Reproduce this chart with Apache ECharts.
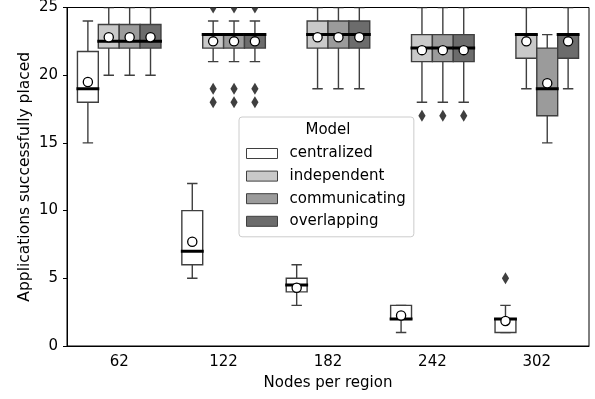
<!DOCTYPE html>
<html><head><meta charset="utf-8">
<script src="https://cdn.jsdelivr.net/npm/echarts@6/dist/echarts.min.js"></script>
<style>html,body{margin:0;padding:0;background:#fff}#c{width:595px;height:399px}</style>
</head><body><div id="c"></div>
<script>
const categories = ['62', '122', '182', '242', '302'];
const models = ['centralized', 'independent', 'communicating', 'overlapping'];
// [lower whisker, Q1, median, Q3, upper whisker] per category
const centralizedStats   = [[15, 18, 19, 21.75, 24], [5, 6, 7, 10, 12], [3, 4, 4.5, 5, 6], [1, 2, 2, 3, 3], [1, 1, 2, 2, 3]];
const independentStats   = [[20, 22, 22.5, 23.75, 25], [21, 22, 23, 23, 24], [19, 22, 23, 24, 25], [18, 21, 22, 23, 25], [19, 21.25, 23, 23, 25]];
const communicatingStats = [[20, 22, 22.5, 23.75, 25], [21, 22, 23, 23, 24], [19, 22, 23, 24, 25], [18, 21, 22, 23, 25], [15, 17, 19, 22, 23]];
const overlappingStats   = [[20, 22, 22.5, 23.75, 25], [21, 22, 23, 23, 24], [19, 22, 23, 24, 25], [18, 21, 22, 23, 25], [19, 21.25, 23, 23, 25]];
const centralizedMeans   = [19.5, 7.7, 4.3, 2.25, 1.85];
const independentMeans   = [22.8, 22.5, 22.8, 21.85, 22.5];
const communicatingMeans = [22.8, 22.5, 22.8, 21.85, 19.4];
const overlappingMeans   = [22.8, 22.5, 22.8, 21.85, 22.5];
const centralizedOutliers   = [[], [], [], [], [5]];
const independentOutliers   = [[], [18, 19, 25], [], [17], []];
const communicatingOutliers = [[], [18, 19, 25], [], [17], []];
const overlappingOutliers   = [[], [18, 19, 25], [], [17], []];
const yTicks = [0, 5, 10, 15, 20, 25];

const allStats = [centralizedStats, independentStats, communicatingStats, overlappingStats];
const allMeans = [centralizedMeans, independentMeans, communicatingMeans, overlappingMeans];
const allOutliers = [centralizedOutliers, independentOutliers, communicatingOutliers, overlappingOutliers];
const fills = ['#ffffff', '#c9c9c9', '#9b9b9b', '#6c6c6c'];
const edge = '#3f3f3f';
const FONT = 'DejaVu Sans';

function makeRender(m) {
  return function (params, api) {
    const ci = api.value(0);
    const lo = api.value(1), q1 = api.value(2), med = api.value(3), q3 = api.value(4), hi = api.value(5), mean = api.value(6);
    const band = api.size([1, 0])[0];
    const bw = band * 0.2;
    const cx = api.coord([ci, 0])[0] + (m - 1.5) * bw;
    const y = v => api.coord([ci, v])[1];
    const x0 = cx - bw / 2, x1 = cx + bw / 2;
    const cap = bw / 4;
    const ls = { stroke: edge, lineWidth: 1.4 };
    const ch = [];
    ch.push({ type: 'line', shape: { x1: cx, y1: y(lo), x2: cx, y2: y(q1) }, style: ls });
    ch.push({ type: 'line', shape: { x1: cx, y1: y(q3), x2: cx, y2: y(hi) }, style: ls });
    ch.push({ type: 'line', shape: { x1: cx - cap, y1: y(lo), x2: cx + cap, y2: y(lo) }, style: ls });
    ch.push({ type: 'line', shape: { x1: cx - cap, y1: y(hi), x2: cx + cap, y2: y(hi) }, style: ls });
    ch.push({ type: 'rect', shape: { x: x0, y: y(q3), width: bw, height: y(q1) - y(q3) }, style: { fill: fills[m], stroke: edge, lineWidth: 1.4 } });
    ch.push({ type: 'line', shape: { x1: x0 - 1, y1: y(med), x2: x1 + 1, y2: y(med) }, style: { stroke: '#000', lineWidth: 3 } });
    const outs = allOutliers[m][ci];
    outs.forEach(o => {
      const oy = y(o);
      ch.push({ type: 'polygon', shape: { points: [[cx, oy - 6], [cx + 3.6, oy], [cx, oy + 6], [cx - 3.6, oy]] }, style: { fill: edge } });
    });
    ch.push({ type: 'circle', shape: { cx: cx, cy: y(mean), r: 4.6 }, style: { fill: '#fff', stroke: '#000', lineWidth: 1.3 } });
    return { type: 'group', children: ch };
  };
}

const series = models.map((name, m) => ({
  name: name,
  type: 'custom',
  clip: true,
  renderItem: makeRender(m),
  itemStyle: { color: fills[m], borderColor: edge },
  encode: { x: 0, y: [1, 2, 3, 4, 5] },
  data: categories.map((c, i) => [i].concat(allStats[m][i], [allMeans[m][i]]))
}));

const chart = echarts.init(document.getElementById('c'), null, { renderer: 'canvas' });
chart.setOption({
  animation: false,
  textStyle: { fontFamily: FONT },
  grid: { left: 67, right: 6, top: 7, bottom: 53, show: true, borderColor: '#000', borderWidth: 1, backgroundColor: 'transparent' },
  xAxis: {
    type: 'category', data: categories,
    axisLine: { lineStyle: { color: '#000', width: 1 } },
    axisTick: { alignWithLabel: true, length: 4, lineStyle: { color: '#000' } },
    axisLabel: { fontSize: 15, color: '#000', margin: 9, fontFamily: FONT },
    splitLine: { show: false },
    name: 'Nodes per region', nameLocation: 'middle', nameGap: 30, nameMoveOverlap: false,
    nameTextStyle: { fontSize: 15, color: '#000', fontFamily: FONT }
  },
  yAxis: {
    type: 'value', min: 0, max: 25, interval: 5,
    axisLine: { show: true, lineStyle: { color: '#000', width: 1 } },
    axisTick: { show: true, length: 4, lineStyle: { color: '#000' } },
    axisLabel: { fontSize: 15, color: '#000', margin: 9, fontFamily: FONT, formatter: v => yTicks.indexOf(v) >= 0 ? String(v) : '' },
    splitLine: { show: false },
    name: 'Applications successfully placed', nameLocation: 'middle', nameGap: 34, nameMoveOverlap: false,
    nameTextStyle: { fontSize: 15.5, color: '#000', fontFamily: FONT }
  },
  legend: {
    orient: 'vertical', left: 239, top: 117,
    padding: [29, 8, 8, 7],
    itemWidth: 31, itemHeight: 10, itemGap: 7.6,
    selectedMode: false,
    backgroundColor: 'rgba(255,255,255,0.8)', borderColor: '#cccccc', borderWidth: 1, borderRadius: 3,
    textStyle: { fontFamily: FONT, fontSize: 15, color: '#000', lineHeight: 15, padding: [0, 0, 0, 7] },
    data: models.map((name, m) => ({ name: name, icon: 'rect', itemStyle: { color: fills[m], borderColor: edge, borderWidth: 1 } }))
  },
  graphic: [{
    type: 'text', z: 100, x: 328, y: 130,
    style: { text: 'Model', textAlign: 'center', textVerticalAlign: 'middle', font: '15px "DejaVu Sans"', fill: '#000' }
  }],
  series: series
});
</script>
</body></html>
